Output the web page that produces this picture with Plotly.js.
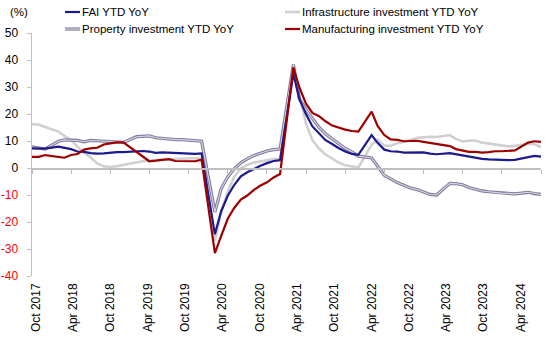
<!DOCTYPE html>
<html><head><meta charset="utf-8">
<script src="https://cdn.plot.ly/plotly-3.0.1.min.js"></script>
<style>html,body{margin:0;padding:0;background:#fff}#chart{width:550px;height:338px}</style>
</head><body><div id="chart"></div>
<script>
// Monthly YTD data (Jan/Feb reported together, so no January points)
const months = [
 '2017-10','2017-11','2017-12',
 '2018-02','2018-03','2018-04','2018-05','2018-06','2018-07','2018-08','2018-09','2018-10','2018-11','2018-12',
 '2019-02','2019-03','2019-04','2019-05','2019-06','2019-07','2019-08','2019-09','2019-10','2019-11','2019-12',
 '2020-02','2020-03','2020-04','2020-05','2020-06','2020-07','2020-08','2020-09','2020-10','2020-11','2020-12',
 '2021-02','2021-03','2021-04','2021-05','2021-06','2021-07','2021-08','2021-09','2021-10','2021-11','2021-12',
 '2022-02','2022-03','2022-04','2022-05','2022-06','2022-07','2022-08','2022-09','2022-10','2022-11','2022-12',
 '2023-02','2023-03','2023-04','2023-05','2023-06','2023-07','2023-08','2023-09','2023-10','2023-11','2023-12',
 '2024-02','2024-03','2024-04'
];
const faiYoY = [
 7.3,7.2,7.2,
 7.9,7.5,7.0,6.1,6.0,5.5,5.3,5.4,5.7,5.9,5.9,
 6.1,6.3,6.1,5.6,5.8,5.7,5.5,5.4,5.2,5.2,5.4,
 -24.5,-16.1,-10.3,-6.3,-3.1,-1.6,-0.3,0.8,1.8,2.6,2.9,
 35.0,25.6,19.9,15.4,12.6,10.3,8.9,7.3,6.1,5.2,4.9,
 12.2,9.3,6.8,6.2,6.1,5.7,5.8,5.9,5.8,5.3,5.1,
 5.5,5.1,4.7,4.0,3.8,3.4,3.2,3.1,2.9,2.9,3.0,
 4.2,4.5,4.2
];
const infraYoY = [
 16.2,16.1,15.2,
 13.5,11.9,10.4,7.9,5.7,4.0,1.7,0.6,0.4,0.7,1.2,
 2.1,2.5,2.8,3.0,3.1,3.2,3.3,3.3,3.5,3.6,3.7,
 -26.9,-16.4,-8.8,-3.3,-0.1,1.2,2.0,2.4,3.0,3.3,3.4,
 36.6,26.9,16.4,10.3,7.2,5.0,3.5,2.0,1.0,0.5,0.2,
 8.6,10.5,8.3,8.2,9.2,9.6,10.4,11.2,11.4,11.6,11.5,
 12.2,10.8,9.8,10.1,10.2,9.4,9.0,8.6,8.3,8.0,8.2,
 9.0,8.8,7.8
];
const propertyYoY = [
 7.8,7.5,7.0,
 9.9,10.4,10.3,10.2,9.7,10.2,10.1,9.9,9.7,9.7,9.5,
 11.6,11.8,11.9,11.2,10.9,10.6,10.5,10.5,10.3,10.2,9.9,
 -16.3,-7.7,-3.3,-0.3,1.9,3.4,4.6,5.6,6.3,6.8,7.0,
 38.3,25.6,21.6,18.3,15.0,12.7,10.9,8.8,7.2,6.0,4.4,
 3.7,0.7,-2.7,-4.0,-5.4,-6.4,-7.4,-8.0,-8.8,-9.8,-10.0,
 -5.7,-5.8,-6.2,-7.2,-7.9,-8.5,-8.8,-9.1,-9.3,-9.4,-9.6,
 -9.0,-9.5,-9.8
];
const mfgYoY = [
 4.1,4.1,4.8,
 4.3,3.8,4.8,5.2,6.8,7.3,7.5,8.7,9.1,9.5,9.5,
 5.9,4.6,2.5,2.7,3.0,3.3,2.6,2.5,2.6,2.5,3.1,
 -31.5,-25.2,-18.8,-14.8,-11.7,-10.2,-8.1,-6.5,-5.3,-3.5,-2.2,
 37.3,29.8,23.8,20.4,19.2,17.3,15.7,14.8,14.2,13.7,13.5,
 20.9,15.6,12.2,10.6,10.4,9.9,10.0,10.1,9.7,9.3,9.1,
 8.1,7.0,6.4,6.0,6.0,5.7,5.9,6.2,6.2,6.3,6.5,
 9.4,9.9,9.7
];
const seriesNames = ['FAI YTD YoY','Infrastructure investment YTD YoY','Property investment YTD YoY','Manufacturing investment YTD YoY'];
const xTickDates = ['2017-10','2018-04','2018-10','2019-04','2019-10','2020-04','2020-10','2021-04','2021-10','2022-04','2022-10','2023-04','2023-10','2024-04'];
const xTickLabels = ['Oct 2017','Apr 2018','Oct 2018','Apr 2019','Oct 2019','Apr 2020','Oct 2020','Apr 2021','Oct 2021','Apr 2022','Oct 2022','Apr 2023','Oct 2023','Apr 2024'];
const yTickVals = [-40,-30,-20,-10,0,10,20,30,40,50];
const yUnit = '(%)';

// styling
const FONT = 'Arial, "Liberation Sans", sans-serif';
const W = 550, H = 338, ML = 32, MR = 9, MT = 33, MB = 62;
const PW = W - ML - MR, PH = H - MT - MB;
const px = v => (v - ML) / PW;
const py = v => (H - MB - v) / PH;
const axisGray = '#bfbfbf';
const st = {
  fai: {color:'#1b1b8f', width:2.2},
  infra: {color:'#d0d0d0', width:2.6},
  propOuter: {color:'#7f7a99', width:3.2},
  propInner: {color:'#d8d5e6', width:1.1},
  mfg: {color:'#9e0000', width:2.2}
};
const dates = months.map(m => m + '-01');
const mk = (y, line, name) => ({type:'scatter', mode:'lines', x:dates, y:y, name:name, line:Object.assign({}, line), showlegend:false, hoverinfo:'skip', xaxis:'x', yaxis:'y'});

const traces = [
  mk(infraYoY, st.infra, seriesNames[1]),
  mk(propertyYoY, st.propOuter, seriesNames[2]),
  mk(propertyYoY, st.propInner, seriesNames[2]),
  mk(faiYoY, st.fai, seriesNames[0]),
  mk(mfgYoY, st.mfg, seriesNames[3]),
  {type:'scatter', mode:'lines', x:[0], y:[null], xaxis:'x2', yaxis:'y', showlegend:false, hoverinfo:'skip'}
];

// manual legend
const legendItems = [
  {name:seriesNames[0], styles:[st.fai], x0:65, y:12},
  {name:seriesNames[1], styles:[st.infra], x0:285, y:12},
  {name:seriesNames[2], styles:[st.propOuter, st.propInner], x0:65, y:29},
  {name:seriesNames[3], styles:[st.mfg], x0:285, y:29}
];
const shapes = [], annotations = [];
legendItems.forEach(it => {
  it.styles.forEach(s => shapes.push({type:'line', xref:'paper', yref:'paper', x0:px(it.x0), x1:px(it.x0+15), y0:py(it.y), y1:py(it.y), line:{color:s.color, width:s.width}}));
  annotations.push({xref:'paper', yref:'paper', x:px(it.x0+15), y:py(it.y), xanchor:'left', yanchor:'middle', text:it.name, showarrow:false, font:{family:FONT, size:11.5, color:'#000'}});
});
annotations.push({xref:'paper', yref:'paper', x:px(19), y:py(12), xanchor:'center', yanchor:'middle', text:yUnit, showarrow:false, font:{family:FONT, size:11.5, color:'#000'}});

const yTickText = yTickVals.map(v => v < 0 ? '<span style="fill:#ff0000">' + v + '</span>' : String(v));

const layout = {
  width:W, height:H, margin:{l:ML, r:MR, t:MT, b:MB, pad:0},
  paper_bgcolor:'#fff', plot_bgcolor:'#fff', showlegend:false,
  font:{family:FONT, size:12, color:'#000'},
  xaxis:{type:'date', range:['2017-10-01','2024-04-01'], anchor:'free', position:40/90,
    showline:true, linecolor:axisGray, linewidth:1.5, ticks:'outside', ticklen:4, tickwidth:1, tickcolor:axisGray,
    tickvals:xTickDates.map(d => d + '-01'), showticklabels:false, showgrid:false, zeroline:false, fixedrange:true},
  xaxis2:{type:'linear', overlaying:'x', anchor:'y', side:'bottom', range:[-0.107, 13.539],
    tickvals:xTickLabels.map((_, i) => i), ticktext:xTickLabels, tickangle:-90, ticks:'', showline:false,
    showgrid:false, zeroline:false, ticklabelstandoff:4, tickfont:{family:FONT, size:12, color:'#000'}, fixedrange:true},
  yaxis:{range:[-40,50], tickvals:yTickVals, ticktext:yTickText, showline:true, linecolor:axisGray, linewidth:1.5,
    ticks:'outside', ticklen:4, tickcolor:axisGray, showgrid:false, zeroline:false, ticklabelstandoff:6,
    tickfont:{family:FONT, size:12, color:'#000'}, fixedrange:true},
  shapes:shapes, annotations:annotations
};
Plotly.newPlot('chart', traces, layout, {staticPlot:true, displayModeBar:false});
</script></body></html>
